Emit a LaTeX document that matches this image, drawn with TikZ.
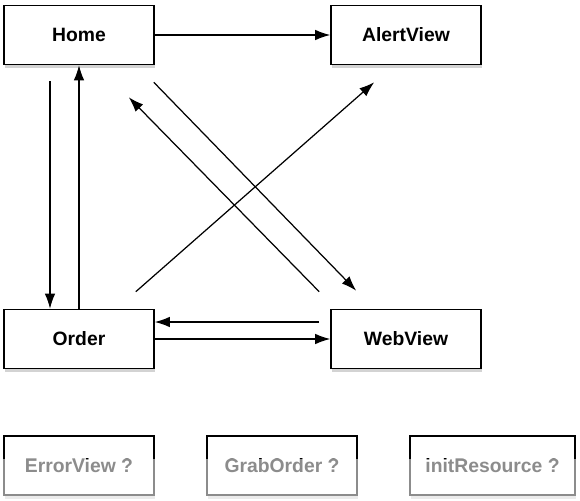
\documentclass[tikz,border=0pt]{standalone}
\usepackage{fontspec}
\setsansfont{Liberation Sans}
\usepackage{tikz}
\usetikzlibrary{arrows.meta,calc,shadows}

\begin{document}
\begin{tikzpicture}[x=0.02cm,y=-0.02cm,
      screen/.style={draw,line width=0.9pt,fill=white,minimum width=3cm,
        minimum height=1.18cm,font=\sffamily\bfseries\fontsize{11}{13}\selectfont,
        drop shadow={shadow xshift=0.02cm,shadow yshift=-0.07cm,opacity=0.35}},
      jump/.style={draw,line width=0.7pt,-{Latex[length=0.3cm,width=0.21cm]}}] % page jumps
      \useasboundingbox (0,0) rectangle (580,500);
      \node[screen] (home) at (79,35) {Home};
      \node[screen] (alert) at (406,35) {AlertView};
      \node[screen] (order) at (79,339) {Order};
      \node[screen] (web) at (406,339) {WebView};
      \node[screen] (error) at (79,465.5) {ErrorView ?};
      \node[screen] (grab) at (282,465.5) {GrabOrder ?};
      \node[screen,minimum width=3.3cm] (init) at (492.5,465.5) {initResource ?};
      \fill[white,opacity=0.55] (0,459) rectangle (580,500);
      \path[jump] (home) -- (alert);
      \path[jump] ($(home.south)+(-29,16)$) -- ($(order.north)+(-29,0)$);
      \path[jump] (order.north) -- (home.south);
      \path[jump] (order) -- (web);
      \path[jump] ($(web.west)+(-11,-17)$) -- ($(order.east)+(0,-17)$);
      \path[jump] ($(home.south east)+(-1,17)$) -- ($(web.north west)+(26,-18)$);
      \path[jump] ($(web.north west)+(-11,-17)$) -- ($(home.south east)+(-26,32)$);
      \path[jump] ($(order.north east)+(-19,-17)$) -- ($(alert.south west)+(44,17)$);
    \end{tikzpicture}
\end{document}
